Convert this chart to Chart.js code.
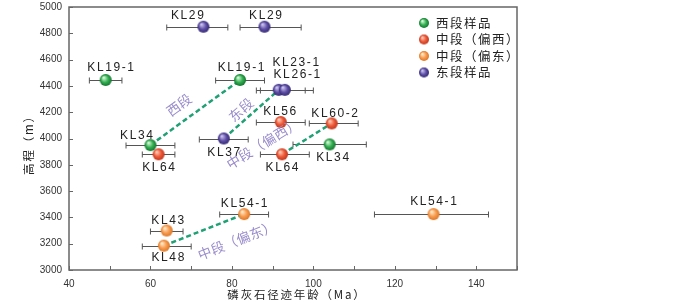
<!DOCTYPE html>
<html>
<head>
<meta charset="utf-8">
<script src="https://cdn.jsdelivr.net/npm/chart.js@4.4.0/dist/chart.umd.min.js"></script>
<style>
  html, body { margin: 0; padding: 0; background: #fff; }
  #wrap { width: 700px; height: 302px; }
</style>
</head>
<body>
<div id="wrap"><canvas id="ftChart"></canvas></div>
<script>
// ===== datos =====
const seriesNames = ['西段样品', '中段（偏西）', '中段（偏东）', '东段样品'];

const westNames = ['KL19-1', 'KL19-1', 'KL34', 'KL34'];
const westAge = [49, 82, 60, 104];
const westAgeMin = [45, 76, 54, 95];
const westAgeMax = [53, 88, 66, 113];
const westElev = [4445, 4445, 3950, 3955];

const midWestNames = ['KL64', 'KL56', 'KL60-2', 'KL64'];
const midWestAge = [62, 92, 104.5, 92.3];
const midWestAgeMin = [58, 86, 99, 87];
const midWestAgeMax = [66, 98, 111, 99];
const midWestElev = [3880, 4125, 4115, 3880];

const midEastNames = ['KL43', 'KL48', 'KL54-1', 'KL54-1'];
const midEastAge = [64, 63.3, 83, 129.5];
const midEastAgeMin = [60, 58, 77, 115];
const midEastAgeMax = [68, 70, 89, 143];
const midEastElev = [3300, 3185, 3425, 3425];

const eastNames = ['KL29', 'KL29', 'KL23-1', 'KL26-1', 'KL37'];
const eastAge = [73, 88, 91.5, 93, 78];
const eastAgeMin = [64, 82, 86, 87, 72];
const eastAgeMax = [79, 97, 98, 100, 84];
const eastElev = [4850, 4850, 4370, 4370, 4000];

const xTickLabels = [40, 60, 80, 100, 120, 140];
const yTickLabels = [3000, 3200, 3400, 3600, 3800, 4000, 4200, 4400, 4600, 4800, 5000];

// tendencias: texto y punto donde va el texto (edad, cota)
const trendNames = ['西段', '东段', '中段（偏西）', '中段（偏东）'];
const trendTextAge = [67.0, 82.2, 87.6, 81.2];
const trendTextElev = [4256, 4218, 3962, 3226];

// ===== estilo =====
const ballColors = [
    ['#d2f7d4', '#34b052', '#12742e'],
    ['#ffc8b6', '#ee5a38', '#c0361e'],
    ['#ffe8c8', '#f89c50', '#dc7624'],
    ['#cac2ee', '#6050a8', '#342872']
];
const lineColor = '#1fa075';
const noteColor = '#9a8ccc';
const labelFont = '12px "Liberation Sans", Arial, sans-serif';

// desplazamiento de cada etiqueta respecto a su punto (px)
const westLabelOff = [[5, -12], [1, -12], [-14, -9], [3, 13]];
const midWestLabelOff = [[0, 13], [-1, -10], [3, -10], [0, 13]];
const midEastLabelOff = [[1, -10], [4, 12], [0, -10], [0, -12]];
const eastLabelOff = [[-16, -11], [1, -11], [17, -27], [12, -15], [0, 14]];

function makeBall(cols, r) {
    const c = document.createElement('canvas');
    c.width = c.height = r * 2 + 2;
    const g = c.getContext('2d');
    const cx = r + 1, cy = r + 1;
    const grad = g.createRadialGradient(cx - r * 0.35, cy - r * 0.4, r * 0.1, cx, cy, r);
    grad.addColorStop(0, cols[0]);
    grad.addColorStop(0.55, cols[1]);
    grad.addColorStop(1, cols[2]);
    g.fillStyle = grad;
    g.beginPath();
    g.arc(cx, cy, r, 0, Math.PI * 2);
    g.fill();
    return c;
}

function toPoints(ages, elevs) {
    return ages.map((a, i) => ({ x: a, y: elevs[i] }));
}

const groups = [
    { names: westNames, age: westAge, min: westAgeMin, max: westAgeMax, elev: westElev, off: westLabelOff },
    { names: midWestNames, age: midWestAge, min: midWestAgeMin, max: midWestAgeMax, elev: midWestElev, off: midWestLabelOff },
    { names: midEastNames, age: midEastAge, min: midEastAgeMin, max: midEastAgeMax, elev: midEastElev, off: midEastLabelOff },
    { names: eastNames, age: eastAge, min: eastAgeMin, max: eastAgeMax, elev: eastElev, off: eastLabelOff }
];

// líneas de tendencia (de la muestra baja a la alta)
const trendLines = [
    [{ x: westAge[2], y: westElev[2] }, { x: westAge[1], y: westElev[1] }],
    [{ x: eastAge[4], y: eastElev[4] }, { x: eastAge[2], y: eastElev[2] }],
    [{ x: midWestAge[3], y: midWestElev[3] }, { x: midWestAge[2], y: midWestElev[2] }],
    [{ x: midEastAge[1], y: midEastElev[1] }, { x: midEastAge[2], y: midEastElev[2] }]
];

const datasets = [];
groups.forEach((g, i) => {
    datasets.push({
        label: seriesNames[i],
        data: toPoints(g.age, g.elev),
        pointStyle: makeBall(ballColors[i], 6),
        pointRadius: 6,
        order: 0
    });
});
trendLines.forEach((pts, i) => {
    datasets.push({
        label: trendNames[i],
        data: pts,
        showLine: true,
        borderColor: lineColor,
        borderWidth: 2.5,
        borderDash: [5, 3],
        pointRadius: 0,
        order: 1
    });
});

function spacedText(ctx, text, x, y, spacing) {
    ctx.letterSpacing = spacing + 'px';
    const w = ctx.measureText(text).width - spacing;
    ctx.textAlign = 'left';
    ctx.fillText(text, x - w / 2, y);
    ctx.letterSpacing = '0px';
}

const decorPlugin = {
    id: 'decor',
    beforeDatasetsDraw(chart) {
        const { ctx, scales: { x, y } } = chart;
        ctx.save();
        // barras de error
        ctx.strokeStyle = '#555';
        ctx.lineWidth = 1;
        groups.forEach(g => {
            g.age.forEach((v, i) => {
                const py = Math.round(y.getPixelForValue(g.elev[i])) + 0.5;
                const x1 = x.getPixelForValue(g.min[i]);
                const x2 = x.getPixelForValue(g.max[i]);
                ctx.beginPath();
                ctx.moveTo(x1, py); ctx.lineTo(x2, py);
                ctx.moveTo(x1, py - 3); ctx.lineTo(x1, py + 3);
                ctx.moveTo(x2, py - 3); ctx.lineTo(x2, py + 3);
                ctx.stroke();
            });
        });
        ctx.restore();
    },
    afterDatasetsDraw(chart) {
        const { ctx, chartArea: a, scales: { x, y } } = chart;
        ctx.save();
        // marco y marcas hacia dentro
        ctx.strokeStyle = '#666';
        ctx.lineWidth = 1.5;
        ctx.strokeRect(a.left, a.top, a.right - a.left, a.bottom - a.top);
        ctx.lineWidth = 1;
        x.ticks.forEach(t => {
            const px = Math.round(x.getPixelForValue(t.value)) + 0.5;
            ctx.beginPath(); ctx.moveTo(px, a.bottom); ctx.lineTo(px, a.bottom - 4); ctx.stroke();
        });
        y.ticks.forEach(t => {
            const py = Math.round(y.getPixelForValue(t.value)) + 0.5;
            ctx.beginPath(); ctx.moveTo(a.left, py); ctx.lineTo(a.left + 4, py); ctx.stroke();
        });

        // etiquetas de muestras
        ctx.fillStyle = '#222';
        ctx.font = labelFont;
        ctx.textBaseline = 'middle';
        groups.forEach(g => {
            g.names.forEach((n, i) => {
                const px = x.getPixelForValue(g.age[i]) + g.off[i][0];
                const py = y.getPixelForValue(g.elev[i]) + g.off[i][1];
                spacedText(ctx, n, px, py, 1.6);
            });
        });

        // notas de tendencia, giradas según su línea
        ctx.fillStyle = noteColor;
        ctx.font = '13.5px "Noto Sans CJK SC", sans-serif';
        trendNames.forEach((n, i) => {
            const p0 = trendLines[i][0], p1 = trendLines[i][1];
            const ang = Math.atan2(y.getPixelForValue(p1.y) - y.getPixelForValue(p0.y),
                                   x.getPixelForValue(p1.x) - x.getPixelForValue(p0.x));
            ctx.save();
            ctx.translate(x.getPixelForValue(trendTextAge[i]), y.getPixelForValue(trendTextElev[i]));
            ctx.rotate(ang);
            spacedText(ctx, n, 0, 0, 0.3);
            ctx.restore();
        });

        // leyenda
        ctx.font = '12.5px "Noto Sans CJK SC", sans-serif';
        seriesNames.forEach((n, i) => {
            const ly = a.top + 16 + i * 16.5;
            ctx.drawImage(makeBall(ballColors[i], 5), 424 - 6, ly - 6);
            ctx.fillStyle = '#222';
            ctx.letterSpacing = '1.5px';
            ctx.textAlign = 'left';
            ctx.fillText(n, 436, ly);
            ctx.letterSpacing = '0px';
        });

        // títulos de ejes
        ctx.fillStyle = '#222';
        ctx.font = '11.5px "Noto Sans CJK SC", sans-serif';
        spacedText(ctx, '磷灰石径迹年龄（Ma）', 296, 295, 1.8);
        ctx.save();
        ctx.translate(29, 143);
        ctx.rotate(-Math.PI / 2);
        spacedText(ctx, '高程（m）', 0, 0, 1.8);
        ctx.restore();
        ctx.restore();
    }
};

function noPad(s) {
    s.paddingTop = 0;
    s.paddingBottom = 0;
    s.paddingLeft = 0;
    s.paddingRight = 0;
}

new Chart(document.getElementById('ftChart'), {
    type: 'scatter',
    data: { datasets: datasets },
    options: {
        responsive: true,
        maintainAspectRatio: false,
        animation: false,
        layout: { padding: { top: 4, right: 183, left: 0, bottom: 0 } },
        plugins: {
            legend: { display: false },
            tooltip: { enabled: false }
        },
        scales: {
            x: {
                type: 'linear',
                min: 40,
                max: 150,
                grid: { display: false, drawTicks: false },
                border: { display: false },
                ticks: {
                    stepSize: 10,
                    padding: 8,
                    color: '#333',
                    font: { size: 10, family: '"Liberation Sans", Arial, sans-serif' },
                    callback: v => xTickLabels.includes(v) ? v : ''
                },
                afterFit: s => { s.height = 32; noPad(s); }
            },
            y: {
                type: 'linear',
                min: 3000,
                max: 5000,
                grid: { display: false, drawTicks: false },
                border: { display: false },
                ticks: {
                    stepSize: 100,
                    padding: 7,
                    color: '#333',
                    font: { size: 10, family: '"Liberation Sans", Arial, sans-serif' },
                    callback: v => yTickLabels.includes(v) ? v : ''
                },
                afterFit: s => { s.width = 69; noPad(s); }
            }
        }
    },
    plugins: [decorPlugin]
});
</script>
</body>
</html>
